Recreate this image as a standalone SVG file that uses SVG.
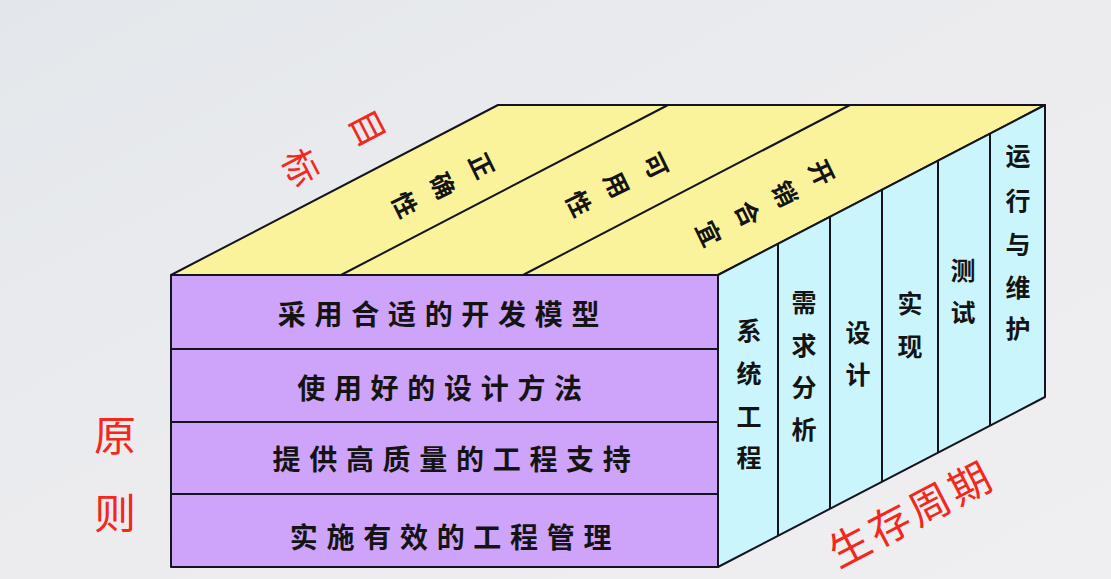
<svg xmlns="http://www.w3.org/2000/svg" width="1111" height="579" viewBox="0 0 1111 579">
  <defs>
    <linearGradient id="bg" x1="0" y1="0" x2="1" y2="1">
      <stop offset="0" stop-color="#E3E7EB"/>
      <stop offset="0.5" stop-color="#ECECEF"/>
      <stop offset="1" stop-color="#EFEFF1"/>
    </linearGradient>
    <style>
      .edge { stroke: #14141E; stroke-width: 2; stroke-linejoin: round; }
      .front { fill: #CDA4FA; }
      .top { fill: #FBF39B; }
      .side { fill: #CBF5FD; }
      .t { font-family: "Noto Sans CJK SC", "Noto Sans", sans-serif; font-weight: 700; fill: #141414; text-anchor: middle; dominant-baseline: central; }
      .row { font-size: 28px; letter-spacing: 8.7px; }
      .ch { font-size: 25px; }
      .red { font-family: "Noto Sans CJK SC", "Noto Sans", sans-serif; font-weight: 400; fill: #F2281C; text-anchor: middle; dominant-baseline: central; }
    </style>
  </defs>
  <rect width="1111" height="579" fill="url(#bg)"/>

  <!-- top face -->
  <g id="top-face">
    <polygon class="top edge" points="171,275 498,105 1045,105 718,275"/>
  </g>
  <g id="top-correctness">
    <text class="t ch" transform="translate(483,165) rotate(64)">正</text>
    <text class="t ch" transform="translate(444,185) rotate(64)">确</text>
    <text class="t ch" transform="translate(406,204) rotate(64)">性</text>
  </g>
  <g id="top-usability">
    <text class="t ch" transform="translate(657,165) rotate(64)">可</text>
    <text class="t ch" transform="translate(618,184) rotate(64)">用</text>
    <text class="t ch" transform="translate(580,203) rotate(64)">性</text>
  </g>
  <g id="top-cost">
    <text class="t ch" transform="translate(823,172) rotate(64)">开</text>
    <text class="t ch" transform="translate(786,193) rotate(64)">销</text>
    <text class="t ch" transform="translate(749,213) rotate(64)">合</text>
    <text class="t ch" transform="translate(710,233) rotate(64)">宜</text>
  </g>

  <!-- right face -->
  <g id="side-face">
    <polygon class="side edge" points="718,275 1045,105 1045,397 718,567"/>
  </g>

  <!-- front face -->
  <g id="front-face">
    <rect class="front edge" x="171" y="275" width="547" height="292"/>
  </g>
  <g id="row-1">
    <text class="t row" x="443" y="313">采用合适的开发模型</text>
  </g>
  <g id="row-2">
    <text class="t row" x="444" y="387">使用好的设计方法</text>
  </g>
  <g id="row-3">
    <text class="t row" x="456" y="458">提供高质量的工程支持</text>
  </g>
  <g id="row-4">
    <text class="t row" x="455" y="536">实施有效的工程管理</text>
  </g>

  <!-- dividers -->
  <g id="connectors" class="edge" fill="none">
    <line x1="341" y1="275" x2="668" y2="105"/>
    <line x1="523" y1="275" x2="850" y2="105"/>
    <line x1="171" y1="349" x2="718" y2="349"/>
    <line x1="171" y1="422" x2="718" y2="422"/>
    <line x1="171" y1="494" x2="718" y2="494"/>
    <line x1="778" y1="243.8" x2="778" y2="535.8"/>
    <line x1="830" y1="216.8" x2="830" y2="508.8"/>
    <line x1="882" y1="189.7" x2="882" y2="481.7"/>
    <line x1="938" y1="160.6" x2="938" y2="452.6"/>
    <line x1="990" y1="133.6" x2="990" y2="425.6"/>
  </g>

  <g id="side-system">
    <text class="t ch" x="749" y="329">系</text>
    <text class="t ch" x="749" y="372">统</text>
    <text class="t ch" x="749" y="415">工</text>
    <text class="t ch" x="749" y="456">程</text>
  </g>
  <g id="side-requirements">
    <text class="t ch" x="804" y="301">需</text>
    <text class="t ch" x="804" y="344">求</text>
    <text class="t ch" x="804" y="386">分</text>
    <text class="t ch" x="804" y="428">析</text>
  </g>
  <g id="side-design">
    <text class="t ch" x="858" y="331">设</text>
    <text class="t ch" x="858" y="373">计</text>
  </g>
  <g id="side-implementation">
    <text class="t ch" x="910" y="302">实</text>
    <text class="t ch" x="910" y="345">现</text>
  </g>
  <g id="side-testing">
    <text class="t ch" x="963" y="269">测</text>
    <text class="t ch" x="963" y="311">试</text>
  </g>
  <g id="side-maintenance">
    <text class="t ch" x="1018" y="154">运</text>
    <text class="t ch" x="1018" y="199">行</text>
    <text class="t ch" x="1018" y="243">与</text>
    <text class="t ch" x="1018" y="286">维</text>
    <text class="t ch" x="1018" y="327">护</text>
  </g>

  <!-- red labels -->
  <g id="label-goal">
    <text class="red" font-size="36" transform="translate(370,127) rotate(62.5)">目</text>
    <text class="red" font-size="36" transform="translate(303,166) rotate(62.5)">标</text>
  </g>
  <g id="label-principle">
    <text class="red" font-size="42" x="115" y="432">原</text>
    <text class="red" font-size="42" x="115" y="510">则</text>
  </g>
  <g id="label-lifecycle">
    <text class="red" font-size="41" letter-spacing="4" transform="translate(910,511) rotate(-27.5)">生存周期</text>
  </g>
</svg>
